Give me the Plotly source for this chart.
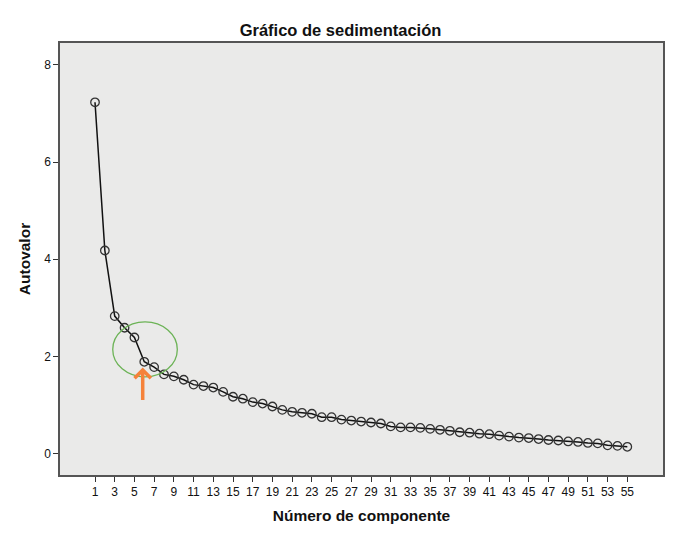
import plotly.graph_objects as go

componentes = list(range(1, 56))
autovalores = [
    7.23, 4.18, 2.83, 2.59, 2.39, 1.89, 1.78, 1.63, 1.59, 1.52,
    1.42, 1.39, 1.36, 1.27, 1.17, 1.13, 1.06, 1.03, 0.97, 0.90,
    0.86, 0.84, 0.82, 0.75, 0.75, 0.70, 0.68, 0.66, 0.64, 0.62,
    0.56, 0.54, 0.54, 0.53, 0.51, 0.49, 0.47, 0.44, 0.43, 0.41,
    0.40, 0.37, 0.35, 0.33, 0.32, 0.30, 0.28, 0.27, 0.25, 0.24,
    0.22, 0.21, 0.17, 0.16, 0.14,
]
ticks_x = list(range(1, 56, 2))
ticks_y = [0, 2, 4, 6, 8]

fuente = 'Liberation Sans, Arial, sans-serif'

fig = go.Figure(go.Scatter(
    x=componentes, y=autovalores, mode='lines+markers',
    line=dict(color='#111111', width=1.5),
    marker=dict(symbol='circle-open', size=8.5, color='#333333', line=dict(width=1.3)),
    showlegend=False,
))

# elipse verde alrededor del codo
fig.add_shape(type='circle', xref='x', yref='y',
              x0=2.80, x1=9.35, y0=1.58, y1=2.71,
              line=dict(color='#6cb356', width=1.3))

# flecha naranja
fig.add_annotation(x=5.84, y=1.77, ax=0, ay=34, text='',
                   showarrow=True, arrowhead=4, arrowsize=0.9,
                   arrowwidth=3.5, arrowcolor='#f5823a')

# la página tiene 8 px de margen en el body
fig.update_layout(
    width=665, height=518,
    margin=dict(l=52, r=10, t=35, b=51),
    paper_bgcolor='white', plot_bgcolor='#eaeae9',
    font=dict(family=fuente, size=12, color='#111111'),
    title=dict(text='<b>Gráfico de sedimentación</b>', x=0.5, xanchor='center',
               y=1 - 22 / 518, yanchor='middle', font=dict(size=16.5)),
)
fig.update_xaxes(
    range=[-2.55, 58.62], tickvals=ticks_x, ticks='outside', ticklen=5,
    tickcolor='#333', showgrid=False, zeroline=False, automargin=False,
    showline=True, linecolor='#555', linewidth=1.5, mirror=True,
    title=dict(text='<b>Número de componente</b>', font=dict(size=15.5), standoff=12),
)
fig.update_yaxes(
    range=[-0.44, 8.45], tickvals=ticks_y, ticks='outside', ticklen=5,
    tickcolor='#333', showgrid=False, zeroline=False, automargin=False,
    showline=True, linecolor='#555', linewidth=1.5, mirror=True,
    title=dict(text='<b>Autovalor</b>', font=dict(size=15.5), standoff=10),
)

fig.write_html('out.html')
